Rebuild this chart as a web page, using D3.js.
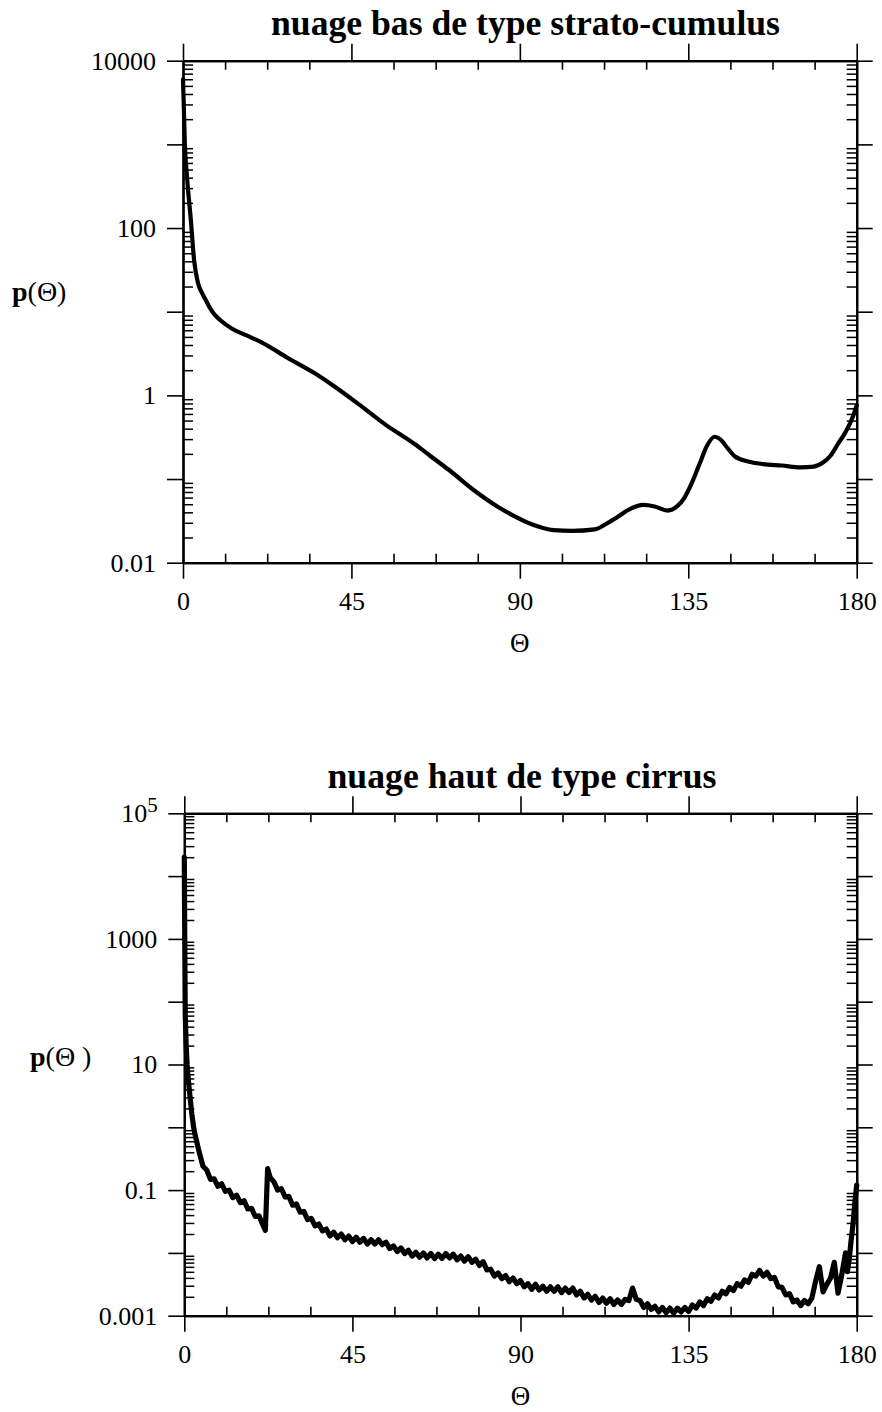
<!DOCTYPE html>
<html>
<head>
<meta charset="utf-8">
<script src="https://cdn.jsdelivr.net/npm/d3@7"></script>
<style>
  body { margin: 0; background: #fff; }
  svg { display: block; }
  text { font-family: "Liberation Serif", "Times New Roman", serif; fill: #000; }
</style>
</head>
<body>
<svg id="chart" width="882" height="1412"></svg>
<script>
// Scattering angle ticks (degrees)
const thetaMajor = [0, 45, 90, 135, 180];
const thetaMinor = [11.25, 22.5, 33.75, 56.25, 67.5, 78.75, 101.25, 112.5, 123.75, 146.25, 157.5, 168.75];

// Low cloud (strato-cumulus) phase function: [theta, p(theta)]
const stratoCumulus = [
  [0, 6000], [0.25, 2500], [0.5, 1000], [1, 450], [1.5, 240], [2, 140], [3, 40], [4, 22],
  [5, 17], [6, 14], [7, 11.5], [8, 9.8], [9, 8.7], [10, 7.9], [13, 6.3], [17, 5.2],
  [21, 4.3], [28, 2.8], [35, 1.86], [40, 1.32], [47, 0.78], [54, 0.45], [62, 0.26],
  [66, 0.19], [71, 0.129], [78, 0.072], [84, 0.047], [88, 0.037], [93, 0.029],
  [99, 0.0245], [104, 0.024], [110, 0.025], [113, 0.029], [116, 0.035], [119.5, 0.044],
  [123, 0.049], [126, 0.047], [129.5, 0.042], [132, 0.047], [134, 0.060], [136, 0.091],
  [138, 0.151], [140, 0.25], [142, 0.32], [143.5, 0.30], [145.5, 0.234], [147.5, 0.186],
  [151, 0.162], [155, 0.151], [160, 0.145], [165, 0.138], [168.5, 0.141], [171, 0.158],
  [173, 0.19], [175, 0.263], [177, 0.363], [179, 0.56], [180, 0.76]
];

// High cloud (cirrus) phase function, noisy Monte-Carlo estimate: [theta, p(theta)]
const cirrus = [
  [0, 2.0e4], [0.1, 1600], [0.25, 63], [0.5, 20], [0.75, 10], [1, 6.3], [1.5, 3.2], [2, 1.66],
  [2.5, 1.0], [3, 0.71], [4, 0.40], [5, 0.24], [6, 0.209], [7, 0.148], [8, 0.151], [9, 0.115],
  [10, 0.126], [11, 0.0955], [12, 0.100], [13, 0.0759], [14, 0.0832], [15, 0.0631], [16, 0.0676],
  [17, 0.0501], [18, 0.0513], [19, 0.0380], [20, 0.0389], [21, 0.0282], [21.7, 0.0229],
  [22.3, 0.219], [23, 0.158], [24, 0.135], [25, 0.100], [26, 0.105], [27, 0.0776], [28, 0.0794],
  [29, 0.0575], [30, 0.0603], [31, 0.0447], [32, 0.0457], [33, 0.0339], [34, 0.0355],
  [35, 0.0269], [36, 0.0288], [37, 0.0224], [38, 0.0240], [39, 0.0186], [40, 0.0214],
  [41, 0.0174], [42, 0.0200], [43, 0.0162], [44, 0.0186], [45, 0.0151], [46, 0.0178],
  [47, 0.0148], [48, 0.0170], [49, 0.0138], [50, 0.0162], [51, 0.0138], [52, 0.0162],
  [53, 0.0135], [54, 0.0148], [55, 0.0117], [56, 0.0129], [57, 0.0105], [58, 0.0120],
  [59, 0.00977], [60, 0.0110], [61, 0.00891], [62, 0.0102], [63, 0.00851], [64, 0.0100],
  [65, 0.00832], [66, 0.00977], [67, 0.00813], [68, 0.00955], [69, 0.00813], [70, 0.00977],
  [71, 0.00832], [72, 0.00955], [73, 0.00776], [74, 0.00891], [75, 0.00741], [76, 0.00871],
  [77, 0.00708], [78, 0.00794], [79, 0.00631], [80, 0.00724], [81, 0.00537], [82, 0.0055],
  [83, 0.00427], [84, 0.00479], [85, 0.00389], [86, 0.00437], [87, 0.00347], [88, 0.00398],
  [89, 0.00324], [90, 0.00363], [91, 0.00288], [92, 0.00324], [93, 0.00263], [94, 0.00316],
  [95, 0.00257], [96, 0.00295], [97, 0.00245], [98, 0.00288], [99, 0.00245], [100, 0.00288],
  [101, 0.00234], [102, 0.00275], [103, 0.00234], [104, 0.00275], [105, 0.00214], [106, 0.00245],
  [107, 0.00191], [108, 0.00219], [109, 0.00178], [110, 0.00204], [111, 0.00162], [112, 0.00191],
  [113, 0.00158], [114, 0.00186], [115, 0.00151], [116, 0.00178], [117, 0.00151], [118, 0.00182],
  [119, 0.00174], [120, 0.00275], [121, 0.00182], [122, 0.00174], [123, 0.00135], [124, 0.00155],
  [125, 0.00126], [126, 0.00141], [127, 0.00115], [128, 0.00135], [129, 0.00112], [130, 0.00132],
  [131, 0.00110], [132, 0.00132], [133, 0.00115], [134, 0.00135], [135, 0.00117], [136, 0.00148],
  [137, 0.00132], [138, 0.00166], [139, 0.00145], [140, 0.00186], [141, 0.00170], [142, 0.00214],
  [143, 0.00191], [144, 0.00245], [145, 0.00224], [146, 0.00282], [147, 0.00251], [148, 0.00324],
  [149, 0.00295], [150, 0.00372], [151, 0.00339], [152, 0.00457], [153, 0.00427], [154, 0.00525],
  [155, 0.00427], [156, 0.00490], [157, 0.00389], [158, 0.00407], [159, 0.00288], [160, 0.00282],
  [161, 0.00214], [162, 0.00224], [163, 0.00166], [164, 0.00178], [165, 0.00145], [166, 0.00174],
  [167, 0.00155], [168, 0.00191], [169, 0.00355], [170, 0.00603], [171, 0.00240], [172, 0.00316],
  [173, 0.00398], [174, 0.00708], [175, 0.00229], [176, 0.00447], [177, 0.0100], [177.5, 0.00501],
  [178, 0.00794], [178.5, 0.0158], [179, 0.0282], [179.5, 0.0631], [180, 0.120]
];

// Decade ticks and their labels (blank = unlabeled decade)
const scDecades = [0.01, 0.1, 1, 10, 100, 1000, 10000];
const scDecadeLabels = ["0.01", "", "1", "", "100", "", "10000"];
const ciDecades = [0.001, 0.01, 0.1, 1, 10, 100, 1000, 10000, 100000];
const ciDecadeLabels = ["0.001", "", "0.1", "", "10", "", "1000", "", "10^5"];

const panels = [
  {
    title: "nuage bas de type strato-cumulus", titleX: 525.5, titleY: 35, titleW: 509,
    ylabel: ["p", "(Θ)"], ylabelX: 12, ylabelY: 301,
    left: 183, right: 856.7, top: 60.7, bottom: 562.7,
    yDomain: [0.01, 10000], decades: scDecades, decadeLabels: scDecadeLabels,
    data: stratoCumulus, curve: d3.curveMonotoneX, width: 4.2
  },
  {
    title: "nuage haut de type cirrus", titleX: 522, titleY: 788, titleW: 389,
    ylabel: ["p", "(Θ )"], ylabelX: 30, ylabelY: 1066,
    left: 184.3, right: 856.7, top: 813.3, bottom: 1315.7,
    yDomain: [0.001, 100000], decades: ciDecades, decadeLabels: ciDecadeLabels,
    data: cirrus, curve: d3.curveLinear, width: 5.2
  }
];

const svg = d3.select("#chart");

function styleAxis(g, lineW) {
  g.attr("font-family", "Liberation Serif, Times New Roman, serif").attr("font-size", 26);
  g.selectAll(".domain").attr("stroke", "#000").attr("stroke-width", 2.2);
  g.selectAll(".tick line").attr("stroke", "#000").attr("stroke-width", lineW);
  g.selectAll(".tick text").attr("fill", "#000");
}

panels.forEach(p => {
  const x = d3.scaleLinear().domain([0, 180]).range([p.left, p.right]);
  const y = d3.scaleLog().domain(p.yDomain).range([p.bottom, p.top]);
  const minorY = y.ticks().filter(v => !p.decades.some(d => Math.abs(v - d) / d < 1e-9));

  const g = svg.append("g");

  // bottom axis
  g.append("g").attr("transform", `translate(0,${p.bottom})`)
    .call(d3.axisBottom(x).tickValues(thetaMajor).tickSize(16).tickSizeOuter(0).tickPadding(13).tickFormat(d3.format("d")))
    .call(a => styleAxis(a, 1.6));
  g.append("g").attr("transform", `translate(0,${p.bottom})`)
    .call(d3.axisBottom(x).tickValues(thetaMinor).tickSize(-9).tickSizeOuter(0).tickFormat(""))
    .call(a => styleAxis(a, 1.6));
  // top axis
  g.append("g").attr("transform", `translate(0,${p.top})`)
    .call(d3.axisTop(x).tickValues(thetaMajor).tickSize(17).tickSizeOuter(0).tickFormat(""))
    .call(a => styleAxis(a, 1.6));
  g.append("g").attr("transform", `translate(0,${p.top})`)
    .call(d3.axisTop(x).tickValues(thetaMinor).tickSize(-9).tickSizeOuter(0).tickFormat(""))
    .call(a => styleAxis(a, 1.6));
  // left axis
  const leftMajor = g.append("g").attr("transform", `translate(${p.left},0)`)
    .call(d3.axisLeft(y).tickValues(p.decades).tickSize(16).tickSizeOuter(0).tickPadding(11)
      .tickFormat((d, i) => p.decadeLabels[i] === "10^5" ? "" : p.decadeLabels[i]))
    .call(a => styleAxis(a, 1.6));
  leftMajor.selectAll(".tick").filter((d, i) => p.decadeLabels[i] === "10^5").each(function () {
    const t = d3.select(this).append("text").attr("x", -63).attr("dy", "0.32em")
      .attr("text-anchor", "start").attr("font-size", 26).text("10");
    t.append("tspan").attr("dy", "-0.5em").attr("font-size", 21).text("5");
  });
  g.append("g").attr("transform", `translate(${p.left},0)`)
    .call(d3.axisLeft(y).tickValues(minorY).tickSize(-10).tickSizeOuter(0).tickFormat(""))
    .call(a => styleAxis(a, 1.5));
  // right axis
  g.append("g").attr("transform", `translate(${p.right},0)`)
    .call(d3.axisRight(y).tickValues(p.decades).tickSize(16).tickSizeOuter(0).tickFormat(""))
    .call(a => styleAxis(a, 1.6));
  g.append("g").attr("transform", `translate(${p.right},0)`)
    .call(d3.axisRight(y).tickValues(minorY).tickSize(-10).tickSizeOuter(0).tickFormat(""))
    .call(a => styleAxis(a, 1.5));

  // curve
  const line = d3.line().x(d => x(d[0])).y(d => y(d[1])).curve(p.curve);
  g.append("path").datum(p.data).attr("d", line)
    .attr("fill", "none").attr("stroke", "#000").attr("stroke-width", p.width)
    .attr("stroke-linejoin", "round").attr("stroke-linecap", "round");

  // title
  g.append("text").attr("x", p.titleX).attr("y", p.titleY).attr("text-anchor", "middle")
    .attr("font-size", 35).attr("font-weight", "bold")
    .attr("textLength", p.titleW).attr("lengthAdjust", "spacingAndGlyphs")
    .text(p.title);

  // x axis title
  g.append("text").attr("x", x(90)).attr("y", p.bottom + 89).attr("text-anchor", "middle")
    .attr("font-size", 27).text("Θ");

  // y axis title
  const yl = g.append("text").attr("x", p.ylabelX).attr("y", p.ylabelY).attr("font-size", 28);
  yl.append("tspan").attr("font-weight", "bold").text(p.ylabel[0]);
  yl.append("tspan").text(p.ylabel[1]);
});
</script>
</body>
</html>
